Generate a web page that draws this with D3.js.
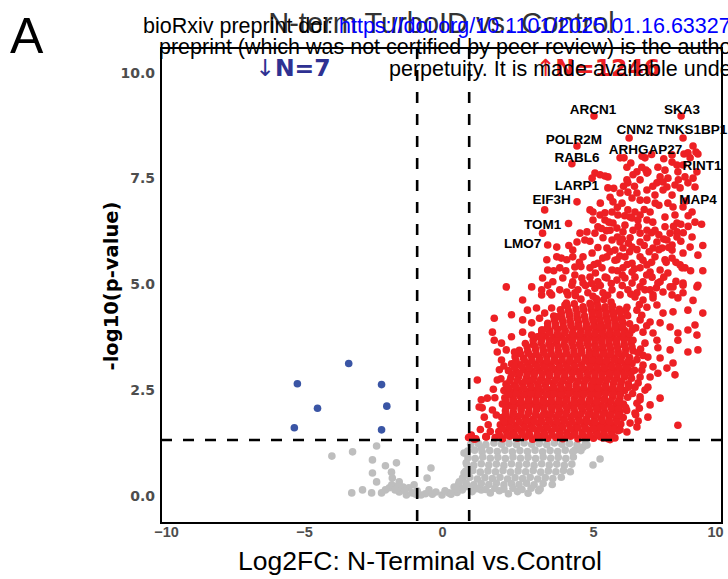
<!DOCTYPE html>
<html>
<head>
<meta charset="utf-8">
<script src="https://cdn.jsdelivr.net/npm/d3@7"></script>
<style>
  html, body { margin: 0; padding: 0; background: #fff; overflow: hidden; }
  svg { display: block; }
</style>
</head>
<body>
<svg id="chart" width="728" height="579"></svg>
<script>
// ---- data: [log2FC, -log10(p)] ----
const downGenes = [
  [-5.24,2.63],[-3.38,3.11],[-2.19,2.61],[-4.51,2.05],[-2.0,2.10],[-5.35,1.59],[-2.19,1.54]
];

const upGenesSparse = [
  [9.10,8.25],[9.22,8.11],[8.89,8.09],[9.30,8.06],[8.98,7.97],[6.11,7.97],[6.27,7.97],[7.13,7.97],[8.24,8.04],[8.73,8.06],
  [6.39,7.75],[6.80,7.64],[7.17,7.68],[7.25,7.64],[7.66,7.75],[7.95,7.68],[8.24,7.87],[8.44,7.80],[8.69,7.80],[8.48,7.64],
  [5.08,7.61],[5.29,7.57],[5.49,7.54],[4.97,7.49],[5.61,7.52],[6.39,7.45],[6.64,7.57],[7.21,7.61],[7.75,7.52],[8.07,7.49],
  [8.77,7.52],[9.10,7.49],[8.89,7.38],[9.18,7.28],[6.43,7.38],[6.93,7.45],[7.62,7.38],[7.87,7.40],[8.03,7.28],[8.36,7.33],
  [8.57,7.26],[6.11,7.14],[6.43,7.16],[6.80,7.14],[7.21,7.21],[7.54,7.09],[7.87,7.21],[8.24,7.09],[5.70,7.04],[6.60,7.02],
  [6.93,6.97],[7.21,6.97],[4.90,6.74],[5.82,6.93],[6.19,6.90],[8.07,6.90],[8.28,6.81],[9.06,6.69],[3.40,6.74],[5.0,6.69],
  [5.29,6.62],[5.49,6.67],[5.78,6.69],[6.02,6.62],[6.43,6.74],[6.72,6.69],[6.93,6.62],[7.34,6.69],[6.52,6.57],[6.84,6.50],
  [7.21,6.50],[7.95,6.57],[8.36,6.62],[8.44,6.43],[9.18,6.45],[5.0,6.50],[5.49,6.50],[5.82,6.43],[6.31,6.38],[4.57,6.19],
  [4.80,6.22],[5.08,6.19],[5.20,6.34],[5.70,6.26],[5.98,6.31],[6.23,6.22],[6.64,6.26],[6.93,6.19],[7.21,6.26],[7.54,6.26],
  [7.95,6.34],[8.16,6.19],[8.44,6.22],[9.06,6.10],[3.80,5.86],[3.33,6.19],[4.47,5.98],[4.33,5.79],[4.73,6.03],[5.41,6.08],
  [5.78,6.03],[6.11,5.98],[6.52,6.08],[6.93,5.98],[7.21,6.08],[7.62,5.98],[8.03,6.03],[8.24,5.91],[8.44,6.10],[8.98,5.86],
  [5.57,5.84],[5.90,5.79],[6.23,5.84],[6.60,5.86],[7.46,5.84],[7.83,5.84],[8.24,5.79],[9.30,5.67],[3.47,5.56],[3.80,5.63],
  [4.13,5.56],[4.33,5.63],[4.67,5.63],[4.97,5.72],[5.20,5.48],[5.57,5.63],[5.98,5.56],[6.31,5.63],[6.60,5.48],[6.93,5.63],
  [7.21,5.44],[7.54,5.63],[7.95,5.56],[8.24,5.60],[8.57,5.44],[8.77,5.37],[3.50,5.32],[3.90,5.37],[4.40,5.39],[4.90,5.37],
  [5.37,5.37],[5.78,5.32],[6.23,5.37],[6.60,5.27],[6.93,5.37],[7.34,5.27],[7.75,5.32],[8.07,5.25],[8.69,5.72],[8.65,5.37],
  [3.33,5.13],[3.67,5.04],[4.0,5.13],[4.33,5.04],[4.63,5.13],[4.90,5.15],[5.20,5.04],[5.57,5.13],[5.98,5.08],[6.31,5.13],
  [6.72,5.15],[7.05,5.04],[7.42,5.15],[7.75,5.04],[8.28,4.92],[8.69,5.01],[9.26,4.92],[3.30,4.85],[3.57,4.78],[3.90,4.85],
  [4.17,4.73],[4.50,4.85],[4.83,4.78],[5.08,4.89],[5.41,4.78],[5.78,4.85],[6.11,4.73],[6.43,4.85],[6.80,4.78],[7.13,4.85],
  [7.46,4.73],[7.87,4.80],[8.24,4.73],[8.69,4.78],[9.30,4.96],[8.16,4.92],[8.48,4.66],
  [6.00,6.80],[6.25,7.30],[6.70,7.30],[7.00,7.75],[7.45,7.30],[7.70,6.85],[7.45,6.45],[7.70,6.15],[7.30,5.75],[7.05,5.55],
  [6.40,5.45],[6.00,5.30],[5.50,5.15],[5.10,5.25],[4.60,5.40],[4.10,5.30],[8.40,5.05],[8.00,5.50],[8.90,6.35],[8.60,6.00],
  [9.00,5.30],[9.50,5.90],[5.30,6.90],[5.55,6.25],[6.20,6.05],[6.85,6.35],[7.55,6.90],[8.60,6.40],[5.90,5.55],[6.50,5.75],
  [5.30,4.95],[5.75,5.00],[6.20,4.95],[4.75,4.95],[4.40,5.20],[5.05,5.45],[5.40,5.60],[5.70,5.75],[6.10,5.65],[6.45,5.95],
  [6.80,5.80],[7.10,5.90],[7.40,5.50],[7.70,5.80],[8.10,5.85],[8.40,5.50],[7.90,5.15],[7.60,4.90],[7.20,5.20],[6.70,5.35],
  [6.20,5.20],[5.20,5.85],[4.90,6.00],[4.55,5.50],[4.95,5.00],[3.70,5.30],[3.95,5.60],[4.20,5.90],[6.00,6.10],[6.60,6.55],
  [7.10,6.75],[7.40,6.20],[7.90,6.05],[8.30,6.35],[8.70,6.20],[8.90,6.60],[6.30,6.60],[5.65,6.45],[5.35,6.30],[5.85,7.25],
  [6.55,7.85],[7.40,8.05],[7.90,7.95],[8.50,7.45],[8.80,6.95],[9.45,6.40],[9.50,5.30],[9.10,4.60],[9.50,4.30],
  [2.13,4.92],[2.97,4.92],[3.50,4.96],[4.30,4.96],[4.67,5.01],[2.67,4.61],[3.30,4.73],[3.63,4.73],[4.13,4.80],[4.40,4.78],
  [2.83,4.37],[1.73,4.18],[2.30,4.26],[3.13,4.42],[3.40,4.30],[3.63,4.42],[4.07,4.49],[1.67,3.85],[2.67,4.14],[2.97,4.07],
  [3.23,4.18],[3.80,4.21],[1.73,3.66],[1.97,3.59],[2.30,3.74],[2.67,3.85],[2.97,3.78],[3.33,3.90],[1.83,3.38],[2.13,3.43],
  [2.40,3.38],[1.97,3.19],[1.90,2.96],[1.17,2.72],[1.83,2.72],[1.30,2.25],[1.50,2.29],[1.33,2.06],[1.40,1.84],[1.80,1.89],
  [0.97,1.42],[1.47,1.37],[1.07,1.32],[1.23,2.08],[1.67,2.01],[1.53,1.66],[1.27,1.55],[1.60,1.50],[1.70,2.50],[1.75,2.30],
  [1.95,2.75],[2.05,3.05],[0.88,1.36],[1.12,1.33],[1.45,1.38],
  [6.75,1.90],[6.90,2.05],[6.62,2.40],[6.85,2.65],[7.00,2.95],[6.80,3.20],[6.95,3.45],[6.75,3.95],[7.00,4.25],[6.90,4.50],
  [6.55,4.75],[7.20,4.00],[7.05,3.30],[6.70,2.95],[6.85,1.75],
  [8.69,4.96],[8.89,4.37],[9.18,4.02],[8.89,3.90],[8.48,3.83],[9.26,3.78],[9.30,3.43],[8.89,3.38],[8.48,3.66],[8.16,3.43],
  [7.66,3.48],[8.28,3.12],[8.36,2.84],[8.03,3.0],[7.66,2.88],[7.34,2.79],[7.25,2.55],[7.34,2.13],[7.75,2.29],[7.25,1.84],
  [8.48,1.65],[6.93,2.32],[6.80,2.17],[6.72,1.94],[6.52,1.70],[6.80,1.61],[6.39,1.49],[5.90,1.35],[6.11,1.54],[5.70,1.31],
  [5.41,1.35],[6.60,5.01],[6.93,4.92],[7.34,4.85],[7.66,5.01],[7.46,4.66],[7.05,4.61],[6.72,4.68],[6.39,4.44],[6.80,4.37],
  [7.21,4.44],[7.62,4.49],[7.87,4.30],[8.28,4.33],[6.93,4.14],[7.34,4.09],[7.75,4.07],[8.16,3.97],[6.60,3.90],[7.05,3.85],
  [7.46,3.83],[6.64,3.66],[7.13,3.59],[7.62,3.66],[6.84,3.36],[7.25,3.26],[7.75,3.24],[7.05,3.07],[7.46,3.03],[6.93,2.79],
  [6.72,2.55],[7.13,2.48],[6.93,2.25]
];

const upGenesCore = [
  [1.76,1.36],[2.01,1.33],[2.24,1.39],[2.5,1.34],[2.76,1.37],[3.0,1.32],[3.26,1.38],[3.5,1.34],[3.77,1.36],[4.0,1.33],[4.26,1.39],[4.5,1.33],[4.75,1.37],[5.02,1.34],[5.3,1.38],[5.62,1.33],
  [1.88,1.5],[2.13,1.52],[2.37,1.48],[2.63,1.51],[2.88,1.49],[3.14,1.53],[3.38,1.48],[3.63,1.5],[3.9,1.52],[4.13,1.47],[4.38,1.51],[4.64,1.49],[4.88,1.53],[5.15,1.48],[5.45,1.51],[5.76,1.49],[6.02,1.52],
  [1.93,1.66],[2.2,1.68],[2.44,1.64],[2.7,1.67],[2.95,1.65],[3.2,1.69],[3.45,1.64],[3.7,1.67],[3.96,1.65],[4.2,1.68],[4.45,1.64],[4.7,1.66],[4.96,1.69],[5.22,1.64],[5.52,1.67],[5.82,1.65],[6.14,1.68],
  [1.98,1.83],[2.25,1.8],[2.5,1.84],[2.76,1.82],[3.01,1.79],[3.27,1.84],[3.52,1.81],[3.77,1.83],[4.02,1.8],[4.27,1.84],[4.52,1.82],[4.78,1.79],[5.05,1.83],[5.35,1.81],[5.66,1.84],[5.96,1.8],[6.24,1.83],
  [2.1,1.99],[2.36,1.96],[2.62,2.0],[2.88,1.97],[3.13,2.01],[3.39,1.96],[3.64,1.99],[3.9,1.97],[4.14,2.0],[4.4,1.96],[4.65,1.99],[4.9,1.97],[5.18,2.0],[5.48,1.96],[5.8,1.99],[6.1,1.97],[6.38,2.0],
  [2.0,2.15],[2.24,2.12],[2.5,2.16],[2.75,2.13],[3.0,2.15],[3.26,2.12],[3.52,2.16],[3.77,2.13],[4.02,2.15],[4.27,2.12],[4.52,2.16],[4.78,2.13],[5.04,2.15],[5.33,2.12],[5.64,2.16],[5.95,2.13],[6.25,2.15],
  [2.08,2.3],[2.35,2.28],[2.6,2.32],[2.86,2.29],[3.11,2.31],[3.36,2.27],[3.62,2.32],[3.88,2.29],[4.13,2.3],[4.38,2.28],[4.64,2.32],[4.9,2.29],[5.18,2.31],[5.48,2.28],[5.8,2.32],[6.1,2.29],[6.42,2.31],
  [2.05,2.47],[2.3,2.44],[2.55,2.48],[2.8,2.45],[3.05,2.47],[3.3,2.44],[3.56,2.48],[3.82,2.45],[4.07,2.47],[4.32,2.44],[4.58,2.48],[4.83,2.45],[5.08,2.47],[5.38,2.44],[5.68,2.48],[5.98,2.45],[6.3,2.47],
  [2.12,2.62],[2.4,2.6],[2.66,2.64],[2.92,2.61],[3.17,2.63],[3.42,2.6],[3.68,2.64],[3.93,2.61],[4.19,2.63],[4.44,2.6],[4.7,2.64],[4.95,2.61],[5.22,2.63],[5.52,2.6],[5.84,2.64],[6.14,2.61],[6.45,2.63],
  [2.28,2.78],[2.54,2.8],[2.8,2.77],[3.05,2.79],[3.3,2.76],[3.55,2.8],[3.81,2.77],[4.06,2.79],[4.31,2.76],[4.57,2.8],[4.82,2.77],[5.08,2.79],[5.38,2.76],[5.68,2.8],[5.98,2.77],[6.3,2.79],[6.58,2.76],
  [2.2,2.94],[2.46,2.92],[2.72,2.96],[2.97,2.93],[3.22,2.95],[3.48,2.92],[3.74,2.96],[3.99,2.93],[4.24,2.95],[4.5,2.92],[4.75,2.96],[5.0,2.93],[5.27,2.95],[5.57,2.92],[5.87,2.96],[6.17,2.93],[6.48,2.95],
  [2.3,3.1],[2.58,3.08],[2.84,3.12],[3.1,3.09],[3.35,3.11],[3.6,3.08],[3.86,3.12],[4.11,3.09],[4.36,3.11],[4.62,3.08],[4.88,3.12],[5.14,3.09],[5.42,3.11],[5.72,3.08],[6.02,3.12],[6.33,3.09],[6.6,3.11],
  [2.42,3.27],[2.7,3.24],[2.96,3.28],[3.22,3.25],[3.47,3.27],[3.73,3.24],[3.98,3.28],[4.24,3.25],[4.49,3.27],[4.75,3.24],[5.0,3.28],[5.28,3.25],[5.58,3.27],[5.88,3.24],[6.18,3.28],[6.5,3.25],
  [2.56,3.42],[2.84,3.4],[3.1,3.44],[3.36,3.41],[3.6,3.43],[3.86,3.4],[4.11,3.44],[4.37,3.41],[4.62,3.43],[4.88,3.4],[5.14,3.44],[5.43,3.41],[5.73,3.43],[6.03,3.4],[6.34,3.44],[6.64,3.41],
  [2.76,3.58],[3.02,3.56],[3.28,3.6],[3.54,3.57],[3.79,3.59],[4.04,3.56],[4.3,3.6],[4.55,3.57],[4.8,3.59],[5.07,3.56],[5.36,3.6],[5.66,3.57],[5.96,3.59],[6.27,3.56],[6.56,3.6],
  [3.16,3.74],[3.44,3.76],[3.7,3.73],[3.95,3.75],[4.2,3.72],[4.46,3.76],[4.71,3.73],[4.96,3.75],[5.22,3.72],[5.52,3.76],[5.82,3.73],[6.12,3.75],[6.42,3.72],
  [3.3,3.9],[3.57,3.88],[3.83,3.92],[4.08,3.89],[4.34,3.91],[4.6,3.88],[4.85,3.92],[5.12,3.89],[5.4,3.91],[5.7,3.88],[6.0,3.92],[6.3,3.89],
  [3.5,4.06],[3.76,4.04],[4.01,4.08],[4.27,4.05],[4.52,4.07],[4.78,4.04],[5.04,4.08],[5.32,4.05],[5.62,4.07],[5.92,4.04],[6.22,4.08],[6.5,4.05],
  [3.7,4.23],[3.96,4.2],[4.22,4.24],[4.47,4.21],[4.72,4.23],[4.98,4.2],[5.25,4.24],[5.55,4.21],[5.85,4.23],[6.15,4.2],[6.42,4.24],
  [3.92,4.38],[4.18,4.36],[4.44,4.4],[4.69,4.37],[4.94,4.39],[5.2,4.36],[5.48,4.4],[5.78,4.37],[6.08,4.39],[6.34,4.36],
  [4.12,4.54],[4.38,4.52],[4.9,4.53],[5.16,4.55],[5.74,4.56],
  [4.42,4.71],[5.0,4.7],[5.6,4.72]
];

// genes lying between the rows above, in the densest part of the cloud
const upGenesCoreInner = [
  [1.9,1.42],[2.15,1.43],[2.4,1.41],[2.65,1.44],[2.9,1.42],[3.15,1.41],[3.4,1.43],[3.65,1.42],[3.9,1.44],[4.15,1.41],[4.4,1.43],[4.65,1.42],[4.9,1.41],[5.17,1.44],[5.47,1.42],[5.77,1.41],
  [2.0,1.58],[2.25,1.59],[2.5,1.57],[2.75,1.6],[3.0,1.58],[3.25,1.57],[3.5,1.59],[3.75,1.58],[4.0,1.6],[4.25,1.57],[4.5,1.59],[4.75,1.58],[5.02,1.57],[5.32,1.6],[5.62,1.58],[5.92,1.57],
  [2.06,1.74],[2.31,1.75],[2.56,1.73],[2.81,1.76],[3.06,1.74],[3.31,1.73],[3.56,1.75],[3.81,1.74],[4.06,1.76],[4.31,1.73],[4.56,1.75],[4.81,1.74],[5.08,1.73],[5.38,1.76],[5.68,1.74],[5.98,1.73],
  [2.1,1.9],[2.35,1.91],[2.6,1.89],[2.85,1.92],[3.1,1.9],[3.35,1.89],[3.6,1.91],[3.85,1.9],[4.1,1.92],[4.35,1.89],[4.6,1.91],[4.85,1.9],[5.12,1.89],[5.42,1.92],[5.72,1.9],[6.02,1.89],
  [2.12,2.06],[2.37,2.07],[2.62,2.05],[2.87,2.08],[3.12,2.06],[3.37,2.05],[3.62,2.07],[3.87,2.06],[4.12,2.08],[4.37,2.05],[4.62,2.07],[4.87,2.06],[5.14,2.05],[5.44,2.08],[5.74,2.06],[6.04,2.05],[6.34,2.07],
  [2.12,2.22],[2.37,2.23],[2.62,2.21],[2.87,2.24],[3.12,2.22],[3.37,2.21],[3.62,2.23],[3.87,2.22],[4.12,2.24],[4.37,2.21],[4.62,2.23],[4.87,2.22],[5.14,2.21],[5.44,2.24],[5.74,2.22],[6.04,2.21],
  [2.2,2.38],[2.45,2.39],[2.7,2.37],[2.95,2.4],[3.2,2.38],[3.45,2.37],[3.7,2.39],[3.95,2.38],[4.2,2.4],[4.45,2.37],[4.7,2.39],[4.95,2.38],[5.22,2.37],[5.52,2.4],[5.82,2.38],[6.12,2.37],
  [2.2,2.54],[2.45,2.55],[2.7,2.53],[2.95,2.56],[3.2,2.54],[3.45,2.53],[3.7,2.55],[3.95,2.54],[4.2,2.56],[4.45,2.53],[4.7,2.55],[4.95,2.54],[5.22,2.53],[5.52,2.56],[5.82,2.54],[6.12,2.53],[6.45,2.55],
  [2.25,2.7],[2.5,2.71],[2.75,2.69],[3.0,2.72],[3.25,2.7],[3.5,2.69],[3.75,2.71],[4.0,2.7],[4.25,2.72],[4.5,2.69],[4.75,2.71],[5.0,2.7],[5.27,2.69],[5.57,2.72],[5.87,2.7],[6.17,2.69],
  [2.32,2.86],[2.57,2.87],[2.82,2.85],[3.07,2.88],[3.32,2.86],[3.57,2.85],[3.82,2.87],[4.07,2.86],[4.32,2.88],[4.57,2.85],[4.82,2.87],[5.08,2.86],[5.37,2.85],[5.67,2.88],[5.97,2.86],[6.27,2.85],[6.55,2.87],
  [2.4,3.02],[2.65,3.03],[2.9,3.01],[3.15,3.04],[3.4,3.02],[3.65,3.01],[3.9,3.03],[4.15,3.02],[4.4,3.04],[4.65,3.01],[4.9,3.03],[5.17,3.02],[5.47,3.01],[5.77,3.04],[6.07,3.02],[6.37,3.01],
  [2.45,3.18],[2.72,3.19],[2.98,3.17],[3.23,3.2],[3.48,3.18],[3.73,3.17],[3.98,3.19],[4.23,3.18],[4.48,3.2],[4.73,3.17],[4.98,3.19],[5.25,3.18],[5.55,3.17],[5.85,3.2],[6.15,3.18],[6.45,3.17],
  [2.6,3.34],[2.86,3.35],[3.12,3.33],[3.37,3.36],[3.62,3.34],[3.87,3.33],[4.12,3.35],[4.37,3.34],[4.62,3.36],[4.87,3.33],[5.12,3.35],[5.42,3.34],[5.72,3.33],[6.02,3.36],[6.32,3.34],
  [2.82,3.5],[3.08,3.51],[3.34,3.49],[3.59,3.52],[3.84,3.5],[4.09,3.49],[4.34,3.51],[4.59,3.5],[4.84,3.52],[5.1,3.49],[5.4,3.51],[5.7,3.5],[6.0,3.49],[6.3,3.52],[6.6,3.5],
  [3.02,3.66],[3.3,3.67],[3.56,3.65],[3.82,3.68],[4.07,3.66],[4.32,3.65],[4.58,3.67],[4.83,3.66],[5.08,3.68],[5.37,3.65],[5.67,3.67],[5.97,3.66],[6.27,3.68],
  [3.3,3.82],[3.56,3.83],[3.82,3.81],[4.07,3.84],[4.32,3.82],[4.57,3.81],[4.83,3.83],[5.08,3.82],[5.37,3.84],[5.67,3.81],[5.97,3.83],[6.27,3.82],[6.5,3.81],
  [3.5,3.98],[3.76,3.99],[4.02,3.97],[4.27,4.0],[4.52,3.98],[4.77,3.97],[5.03,3.99],[5.3,3.98],[5.6,4.0],[5.9,3.97],[6.2,3.99],
  [3.72,4.14],[3.98,4.15],[4.24,4.13],[4.49,4.16],[4.74,4.14],[5.0,4.13],[5.28,4.15],[5.58,4.14],[5.88,4.16],[6.18,4.13],
  [3.95,4.3],[4.21,4.31],[4.47,4.29],[4.97,4.3],[5.24,4.29],[5.54,4.31],[5.84,4.3],[6.12,4.32],
  [4.15,4.46],[4.67,4.45],[4.93,4.48],[5.2,4.46],[5.5,4.45],[5.8,4.47],
  [4.6,4.63],[5.14,4.64],[5.44,4.62]
];

const notSignificant = [
  [-3.99,0.92],[-3.24,1.02],[-2.52,0.83],[-2.37,1.16],[-2.05,0.69],[-1.65,0.76],[-2.52,0.52],[-2.37,0.31],[-1.83,0.54],[-1.8,0.4],
  [-1.55,0.31],[-3.27,0.05],[-2.88,0.12],[-2.55,0.05],[-2.19,0.05],[-1.91,0.17],[-1.55,0.07],[-1.29,0.0],[-1.08,0.05],[-0.76,0.0],
  [-0.54,0.4],[-1.01,0.24],[-0.47,0.12],[-0.22,0.07],[0,0.0],[0.23,0.05],[0.4,0.19],[0.57,0.31],[0.67,0.12],[0.73,0.52],
  [0.8,0.76],[0.73,0.99],[-0.4,0.64],[-1.82,0.24],[-1.41,0.19],[-1.2,0.17],[-0.9,0.1],[-0.6,0.03],[-0.35,0.02],[0.1,0.1],
  [0.3,0.02],[0.5,0.06],[-1.6,0.22],[-2.05,0.12],[-1.7,0.12],[-1.35,0.1],[-0.95,0.02],[0.85,0.2],[1.0,0.08],[1.3,0.12],
  [1.6,0.05],[1.9,0.1],[2.2,0.03],[2.5,0.08],[2.85,0.04],[3.2,0.1],[1.3,1.11],[4.4,1.06],[4.67,1.13],[4.8,1.18],[5.0,0.71],[5.29,0.85],
  [0.95,1.2],[1.2,1.22],[1.45,1.19],[1.72,1.23],[1.97,1.2],[2.22,1.22],[2.47,1.19],[2.72,1.23],[2.97,1.2],[3.22,1.22],[3.47,1.19],[3.72,1.23],[3.97,1.2],[4.22,1.22],[4.47,1.19],[4.75,1.21],
  [0.85,1.04],[1.08,1.06],[1.33,1.02],[1.58,1.05],[1.83,1.03],[2.08,1.06],[2.33,1.02],[2.58,1.05],[2.83,1.03],[3.08,1.06],[3.33,1.02],[3.58,1.05],[3.83,1.03],[4.08,1.06],[4.33,1.02],[4.6,1.05],
  [0.86,0.88],[1.1,0.86],[1.35,0.9],[1.6,0.87],[1.85,0.89],[2.1,0.86],[2.35,0.9],[2.6,0.87],[2.85,0.89],[3.1,0.86],[3.35,0.9],[3.6,0.87],[3.85,0.89],[4.1,0.86],[4.35,0.9],
  [0.82,0.72],[1.05,0.7],[1.3,0.74],[1.55,0.71],[1.8,0.73],[2.05,0.7],[2.3,0.74],[2.55,0.71],[2.8,0.73],[3.05,0.7],[3.3,0.74],[3.55,0.71],[3.8,0.73],[4.05,0.7],[4.3,0.73],
  [0.78,0.56],[1.02,0.58],[1.27,0.54],[1.52,0.57],[1.77,0.55],[2.02,0.58],[2.27,0.54],[2.52,0.57],[2.77,0.55],[3.02,0.58],[3.27,0.54],[3.52,0.57],[3.77,0.55],[4.02,0.58],[4.25,0.55],
  [0.68,0.4],[0.92,0.42],[1.17,0.38],[1.42,0.41],[1.67,0.39],[1.92,0.42],[2.17,0.38],[2.42,0.41],[2.67,0.39],[2.92,0.42],[3.17,0.38],[3.42,0.41],[3.67,0.39],[3.95,0.42],
  [0.55,0.26],[0.8,0.28],[1.05,0.24],[1.3,0.27],[1.55,0.25],[1.8,0.28],[2.05,0.24],[2.3,0.27],[2.55,0.25],[2.8,0.28],[3.05,0.24],[3.35,0.27],[3.65,0.25],
  [0.45,0.14],[0.7,0.16],[1.15,0.15],[1.45,0.13],[1.75,0.16],[2.05,0.14],[2.35,0.16],[2.65,0.13],[2.95,0.16],[3.25,0.14]
];

// labelled genes: point (x, y) and text anchor (lx, ly), all in data units
const labelledGenes = [
  { gene: "ARCN1",    x: 5.04, y: 8.96, lx: 5.00, ly: 9.01 },
  { gene: "SKA3",     x: 8.61, y: 8.96, lx: 8.65, ly: 9.01 },
  { gene: "CNN2",     x: 6.48, y: 8.44, lx: 6.72, ly: 8.53 },
  { gene: "TNKS1BP1", x: 8.69, y: 8.44, lx: 9.06, ly: 8.53 },
  { gene: "POLR2M",   x: 4.47, y: 8.25, lx: 4.37, ly: 8.30 },
  { gene: "ARHGAP27", x: 7.01, y: 8.01, lx: 7.15, ly: 8.06 },
  { gene: "RABL6",    x: 4.30, y: 7.83, lx: 4.47, ly: 7.87 },
  { gene: "RINT1",    x: 9.26, y: 7.64, lx: 9.47, ly: 7.68 },
  { gene: "LARP1",    x: 5.61, y: 7.26, lx: 4.47, ly: 7.21 },
  { gene: "EIF3H",    x: 4.47, y: 6.93, lx: 3.63, ly: 6.88 },
  { gene: "MAP4",     x: 8.69, y: 6.81, lx: 9.30, ly: 6.88 },
  { gene: "TOM1",     x: 4.19, y: 6.42, lx: 3.33, ly: 6.29 },
  { gene: "LMO7",     x: 3.50, y: 5.91, lx: 2.67, ly: 5.84 }
];

const xTicks = [-10, -5, 0, 5, 10];
const yTicks = [0, 2.5, 5, 7.5, 10];
const fcCutoff = 0.9;
const pCutoff = 1.3;          // -log10(0.05)
const downCount = 7;
const upCount = 1246;

// ---- layout ----
const svg = d3.select("#chart");
const frame = { left: 161, right: 722, top: 48, bottom: 523 };
const x = d3.scaleLinear().domain([-10, -5, 0, 5, 10]).range([166, 304, 442, 593, 715]);
const y = d3.scaleLinear().domain([0, 10]).range([495, 72]);

const RED = "#ED2024", BLUE = "#3A55A5", GREY = "#BEBEBE";
const R = 3.8;

const pts = svg.append("g");
function dots(data, color, r) {
  pts.append("g").selectAll("circle").data(data).join("circle")
    .attr("cx", d => x(d[0])).attr("cy", d => y(d[1]))
    .attr("r", r).attr("fill", color);
}
dots(notSignificant, GREY, R);
dots(downGenes, BLUE, R);
dots(upGenesCore, RED, R);
dots(upGenesCoreInner, RED, R);
dots(upGenesSparse, RED, R);
dots(labelledGenes.map(d => [d.x, d.y]), RED, R);

// threshold lines
const thr = svg.append("g").attr("stroke", "#000").attr("stroke-width", 2.6)
  .attr("stroke-dasharray", "11,11").attr("fill", "none");
[-fcCutoff, fcCutoff].forEach(v => {
  thr.append("line").attr("x1", x(v)).attr("x2", x(v)).attr("y1", frame.top).attr("y2", frame.bottom);
});
thr.append("line").attr("x1", frame.left).attr("x2", frame.right).attr("y1", y(pCutoff)).attr("y2", y(pCutoff));

// panel border
svg.append("rect")
  .attr("x", frame.left).attr("y", frame.top)
  .attr("width", frame.right - frame.left).attr("height", frame.bottom - frame.top)
  .attr("fill", "none").attr("stroke", "#000").attr("stroke-width", 2);

// axes (labels only)
const xAxis = svg.append("g").attr("transform", `translate(0,${frame.bottom})`)
  .call(d3.axisBottom(x).tickValues(xTicks).tickSize(0).tickFormat(d3.format("d")));
xAxis.select(".domain").remove();
xAxis.selectAll("text")
  .attr("y", 14).attr("dy", 0)
  .attr("font-family", "'Liberation Sans Narrow', 'Liberation Sans', Arial, sans-serif")
  .attr("font-weight", "bold").attr("font-size", 14.5).attr("fill", "#4D4D4D");

const yAxis = svg.append("g").attr("transform", `translate(${frame.left},0)`)
  .call(d3.axisLeft(y).tickValues(yTicks).tickSize(0).tickFormat(d3.format(".1f")));
yAxis.select(".domain").remove();
yAxis.selectAll("text")
  .attr("x", -6).attr("dy", "0.36em")
  .attr("font-family", "'DejaVu Sans', sans-serif")
  .attr("font-weight", "bold").attr("font-size", 14).attr("fill", "#4D4D4D");

// axis titles
svg.append("text")
  .attr("transform", "translate(118,286) rotate(-90)")
  .attr("text-anchor", "middle")
  .attr("font-family", "'DejaVu Sans', sans-serif").attr("font-weight", "bold").attr("font-size", 19.5)
  .text("-log10(p-value)");

svg.append("text")
  .attr("x", 420).attr("y", 570).attr("text-anchor", "middle")
  .attr("font-family", "'Liberation Sans', Arial, sans-serif").attr("font-size", 26.5)
  .text("Log2FC: N-Terminal vs.Control");

// gene labels
svg.append("g").selectAll("text").data(labelledGenes).join("text")
  .attr("x", d => x(d.lx)).attr("y", d => y(d.ly))
  .attr("text-anchor", "middle")
  .attr("font-family", "'Liberation Sans', Arial, sans-serif").attr("font-weight", "bold").attr("font-size", 13.5)
  .text(d => d.gene);

// counts
function countLabel(xv, color, arrow, n) {
  const t = svg.append("text")
    .attr("x", x(xv)).attr("y", y(9.9)).attr("text-anchor", "middle")
    .attr("font-family", "'DejaVu Sans', sans-serif").attr("font-size", 23.5).attr("fill", color);
  t.append("tspan").attr("font-weight", "normal").text(arrow);
  t.append("tspan").attr("font-weight", "bold").text("N=" + n);
}
countLabel(-5.4, "#2E3192", "\u2193", downCount);
countLabel(5.2, RED, "\u2191", upCount);

// title and panel letter
svg.append("text")
  .attr("x", (frame.left + frame.right) / 2).attr("y", 33).attr("text-anchor", "middle")
  .attr("font-family", "'Liberation Sans', Arial, sans-serif").attr("font-size", 29).attr("fill", "#333333")
  .text("N-term TurboID vs. Control");

svg.append("text")
  .attr("x", 10).attr("y", 53)
  .attr("font-family", "'Liberation Sans', Arial, sans-serif").attr("font-size", 50)
  .text("A");

// preprint header
const hdr = svg.append("g")
  .attr("font-family", "'Liberation Sans', Arial, sans-serif").attr("font-size", 21.5).attr("fill", "#000");
const l1 = hdr.append("text").attr("x", 143).attr("y", 32.5);
l1.append("tspan").text("bioRxiv preprint doi: ");
l1.append("tspan").attr("fill", "#0000FF").text("https://doi.org/10.1101/2025.01.16.63327");
hdr.append("text").attr("x", 159).attr("y", 54)
  .text("preprint (which was not certified by peer review) is the author");
hdr.append("text").attr("x", 389).attr("y", 75.5)
  .text("perpetuity. It is made available under");
</script>
</body>
</html>
